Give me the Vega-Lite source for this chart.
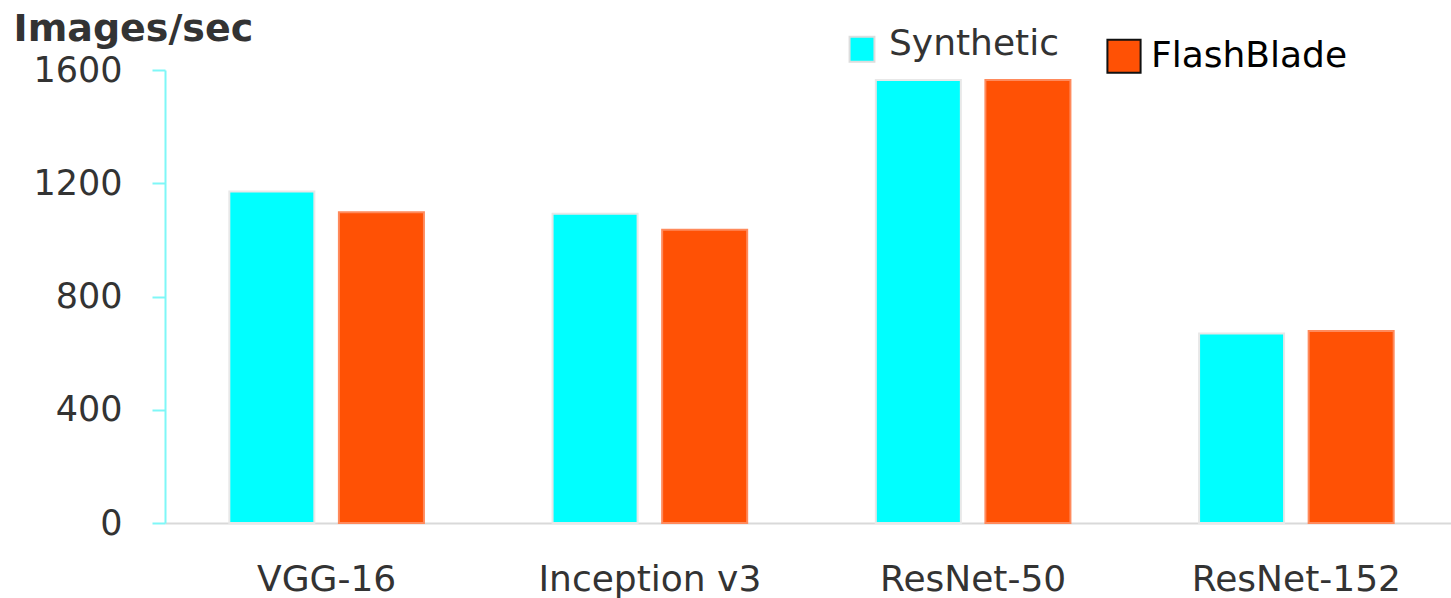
{
  "$schema": "https://vega.github.io/schema/vega-lite/v6.json",
  "autosize": "none",
  "width": 1286,
  "height": 453,
  "padding": {"left": 165, "top": 70, "right": 0, "bottom": 75},
  "background": "white",
  "config": {
    "view": {"stroke": null},
    "font": "DejaVu Sans",
    "axis": {"labelFont": "DejaVu Sans", "titleFont": "DejaVu Sans", "labelColor": "#333333", "titleColor": "#333333"},
    "legend": {"labelFont": "DejaVu Sans"}
  },
  "data": {
    "values": [
      {"model": "VGG-16", "series": "Synthetic", "value": 1171},
      {"model": "VGG-16", "series": "FlashBlade", "value": 1098},
      {"model": "Inception v3", "series": "Synthetic", "value": 1092},
      {"model": "Inception v3", "series": "FlashBlade", "value": 1036},
      {"model": "ResNet-50", "series": "Synthetic", "value": 1565},
      {"model": "ResNet-50", "series": "FlashBlade", "value": 1565},
      {"model": "ResNet-152", "series": "Synthetic", "value": 669},
      {"model": "ResNet-152", "series": "FlashBlade", "value": 678}
    ]
  },
  "encoding": {
    "x": {
      "field": "model",
      "type": "nominal",
      "sort": ["VGG-16", "Inception v3", "ResNet-50", "ResNet-152"],
      "scale": {"range": [0, 1293], "paddingInner": 0, "paddingOuter": 0},
      "axis": {
        "title": null,
        "labelAngle": 0,
        "labelFontSize": 36,
        "labelLimit": 0,
        "labelPadding": 39,
        "ticks": false,
        "domainColor": "#d9d9d9",
        "domainWidth": 2
      }
    },
    "xOffset": {
      "field": "series",
      "type": "nominal",
      "sort": ["Synthetic", "FlashBlade"],
      "scale": {"paddingInner": 0.224, "paddingOuter": 0.587}
    },
    "y": {
      "field": "value",
      "type": "quantitative",
      "scale": {"domain": [0, 1600], "nice": false},
      "axis": {
        "values": [0, 400, 800, 1200, 1600],
        "format": "d",
        "grid": false,
        "domainColor": "#7ff7f7",
        "domainWidth": 2,
        "tickColor": "#7ff7f7",
        "tickSize": 13,
        "tickWidth": 2,
        "labelFontSize": 35,
        "labelPadding": 30,
        "title": "Images/sec",
        "titleAngle": 0,
        "titleAlign": "left",
        "titleBaseline": "alphabetic",
        "titleFontSize": 38,
        "titleFontWeight": "bold",
        "titleX": -152,
        "titleY": -30
      }
    }
  },
  "layer": [
    {
      "mark": {"type": "bar"},
      "encoding": {
        "color": {
          "field": "series",
          "type": "nominal",
          "sort": ["Synthetic", "FlashBlade"],
          "scale": {"domain": ["Synthetic", "FlashBlade"], "range": ["#00ffff", "#ff5105"]},
          "legend": {
            "title": null,
            "orient": "none",
            "direction": "horizontal",
            "legendX": 679,
            "legendY": -44,
            "symbolType": "square",
            "symbolSize": 800,
            "symbolStrokeWidth": 2,
            "labelFontSize": 36,
            "labelLimit": 0,
            "labelColor": "#333333",
            "labelOffset": 9,
            "columnPadding": 44,
            "encode": {
              "symbols": {
                "update": {
                  "stroke": {"signal": "datum.value === 'FlashBlade' ? '#111111' : '#dddddd'"},
                  "strokeWidth": {"value": 2},
                  "size": {"signal": "datum.value === 'FlashBlade' ? 1100 : 620"},
                  "y": {"signal": "datum.value === 'FlashBlade' ? 30 : 12"}
                }
              },
              "labels": {
                "update": {
                  "fill": {"signal": "datum.value === 'FlashBlade' ? '#000000' : '#333333'"},
                  "dy": {"signal": "datum.value === 'FlashBlade' ? 12 : -11"}
                }
              }
            }
          }
        }
      }
    },
    {
      "mark": {"type": "bar", "fillOpacity": 0, "strokeWidth": 2},
      "encoding": {
        "stroke": {
          "condition": {"test": "datum.series === 'Synthetic'", "value": "#e8e8e8"},
          "value": "#ff8a5c"
        }
      }
    }
  ]
}
